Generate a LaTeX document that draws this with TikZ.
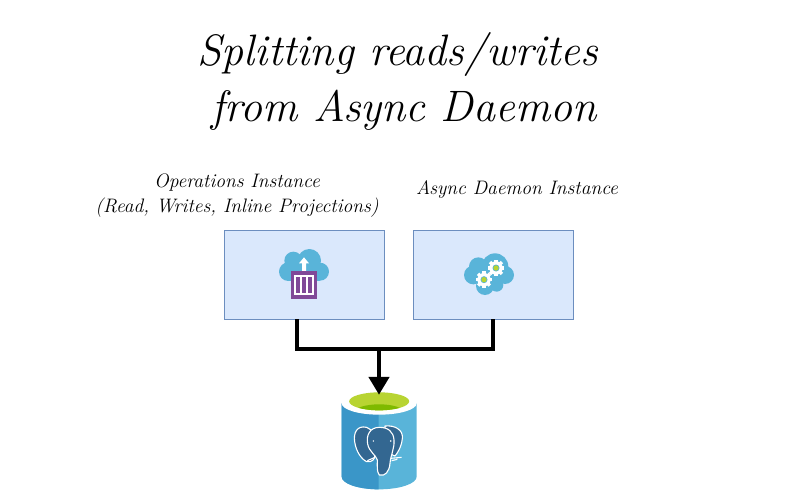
\documentclass[tikz,border=0pt]{standalone}
\usepackage{fontspec}
\usetikzlibrary{arrows.meta}
\definecolor{boxfill}{HTML}{DAE8FC}
\definecolor{boxline}{HTML}{6C8EBF}
\definecolor{cloudblue}{HTML}{59B4D9}
\definecolor{dbdark}{HTML}{3A96C8}
\definecolor{elephant}{HTML}{336791}
\definecolor{limegreen}{HTML}{B8D432}
\definecolor{darkgreen}{HTML}{7FBA00}
\definecolor{boxpurple}{HTML}{804998}
\tikzset{
  titletext/.style={font=\fontsize{44}{44}\selectfont\itshape,text=black,inner sep=0pt,anchor=center},
  labeltext/.style={font=\fontsize{19.5}{25}\selectfont\itshape,text=black,inner sep=0pt,align=center,anchor=center},
  instancebox/.style={draw=boxline,fill=boxfill,line width=0.8pt,minimum width=160pt,minimum height=89pt,inner sep=0pt,anchor=center},
  conn/.style={line width=4.5pt,draw=black},
  elephantline/.style={draw=white,line width=1.1pt,fill=elephant,line join=round}
}
\newcommand{\gearicon}[2]{%
  \begin{scope}[shift={(#1,#2)}]
    \foreach \a in {0,45,...,315}{
      \fill[white,rotate=\a] (-5,-25) rectangle (5,0);
    }
    \fill[white] (0,0) circle (20);
    \fill[cloudblue] (0,0) circle (10.5);
    \fill[limegreen] (0,0) circle (8);
  \end{scope}}
\begin{document}
\begin{tikzpicture}[x=1pt,y=-1pt]
\useasboundingbox (0,0) rectangle (800,500);
\node[titletext] (title1) at (398,55) {Splitting reads/writes};
\node[titletext] (title2) at (404,110) {from Async Daemon};
\node[labeltext] (label1) at (237,195.5) {Operations Instance\\(Read, Writes, Inline Projections)};
\node[labeltext] (label2) at (517,190) {Async Daemon Instance};
\node[instancebox] (box1) at (304,274.5) {};
\node[instancebox] (box2) at (493,274.5) {};
% cloud 1
\begin{scope}[shift={(260,230)},x=1pt/3,y=-1pt/3]
  \fill[cloudblue] (85,125) circle (28);
  \fill[cloudblue] (100,92) circle (27);
  \fill[cloudblue] (148,92) circle (35);
  \fill[cloudblue] (180,125) circle (27);
  \fill[cloudblue] (85,105) rectangle (180,153);
  \fill[white] (126,125) -- (126,100) -- (117,100) -- (132,82) -- (147,100) -- (138,100) -- (138,125) -- cycle;
  \fill[boxpurple] (93,123) rectangle (171,207);
  \fill[white] (103,135) rectangle (161,195);
  \fill[boxpurple] (108,140) rectangle (121,190);
  \fill[boxpurple] (125,140) rectangle (139,190);
  \fill[boxpurple] (143,140) rectangle (157,190);
\end{scope}
% cloud 2
\begin{scope}[shift={(260,230)},x=1pt/3,y=-1pt/3]
  \fill[cloudblue] (640,135) circle (28);
  \fill[cloudblue] (655,110) circle (28);
  \fill[cloudblue] (705,110) circle (40);
  \fill[cloudblue] (735,135) circle (27);
  \fill[cloudblue] (675,168) circle (27);
  \fill[cloudblue] (710,165) circle (20);
  \fill[cloudblue] (640,110) rectangle (735,160);
  \gearicon{708}{114}
  \gearicon{672}{149}
\end{scope}
% database
\node[minimum width=76pt,minimum height=97pt,inner sep=0pt] (db) at (379,440.5) {};
\begin{scope}[shift={(320,370)},x=1pt/3,y=-1pt/3]
  \fill[cloudblue] (65,100) -- (290,100) -- (290,320) arc[start angle=0,end angle=180,x radius=112.5,y radius=38] -- cycle;
  \fill[dbdark] (65,100) -- (176,100) -- (176,358) arc[start angle=90,end angle=180,x radius=111,y radius=38] -- cycle;
  \fill[white] (177.5,100) ellipse (112.5 and 34);
  \fill[limegreen] (177.5,94) ellipse (90 and 27);
  \begin{scope}
    \clip (177.5,94) ellipse (90 and 27);
    \fill[darkgreen] (177.5,125) ellipse (72 and 22);
  \end{scope}
  % elephant
  \draw[elephantline] (140,172) .. controls (110,165) and (100,190) .. (104,215)
     .. controls (108,245) and (125,268) .. (140,275)
     .. controls (155,278) and (165,268) .. (165,255) -- (170,190) -- cycle;
  \draw[elephantline] (195,168) .. controls (225,165) and (250,180) .. (247,205)
     .. controls (245,230) and (232,250) .. (225,258) -- (195,245) -- cycle;
  \draw[elephantline] (178,172) .. controls (150,172) and (138,195) .. (143,222)
     .. controls (147,245) and (168,255) .. (172,270)
     .. controls (172,290) and (170,305) .. (178,315)
     .. controls (195,320) and (208,305) .. (210,280)
     .. controls (212,255) and (224,235) .. (222,210)
     .. controls (220,185) and (205,172) .. (178,172) -- cycle;
  \draw[white,line width=1.1pt] (212,265) -- (245,262) (215,272) -- (232,268);
  \draw[white,line width=1.1pt] (142,272) -- (165,262);
  \fill[white] (160,213) circle (2.5);
  \fill[white] (212,213) circle (2.5);
\end{scope}
% connectors
\coordinate (junction) at (379,349);
\draw[conn] ([xshift=-7pt]box1.south) |- (junction);
\draw[conn] (box2.south) |- (junction);
\draw[conn,-{Triangle[length=18pt,width=20pt]}] (junction) -- ([yshift=-3pt]db.north);
\end{tikzpicture}
\end{document}
